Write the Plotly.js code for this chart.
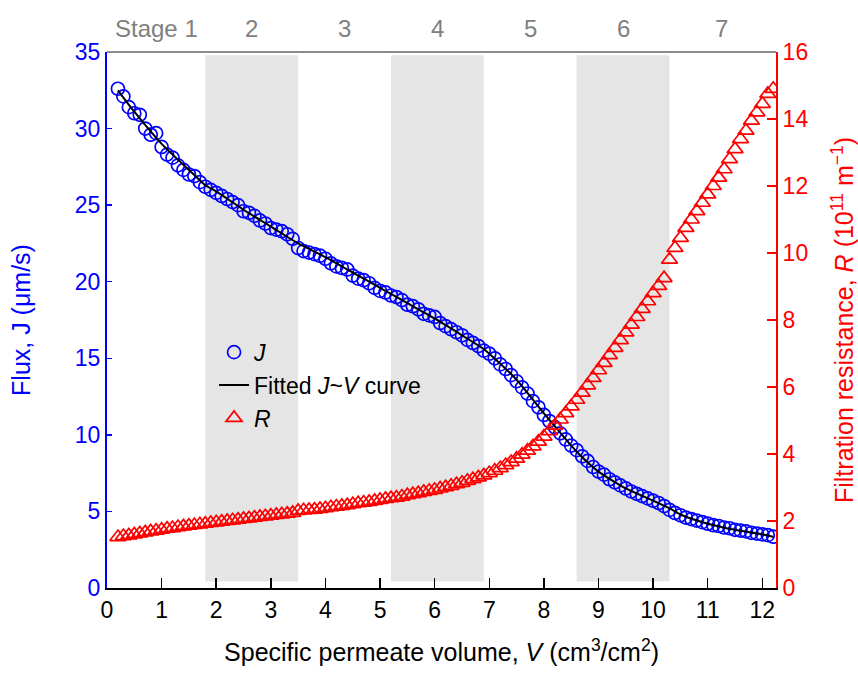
<!DOCTYPE html>
<html>
<head>
<meta charset="utf-8">
<script src="https://cdn.plot.ly/plotly-3.0.1.min.js"></script>
<style>html,body{margin:0;padding:0;background:#fff;}#chart{width:858px;height:673px;}</style>
</head>
<body>
<div id="chart"></div>
<script>
// Measured flux J (um/s) vs specific permeate volume V (cm3/cm2)
const vJ = [0.2,0.3,0.4,0.5,0.6,0.7,0.8,0.9,1.0,1.1,1.2,1.3,1.4,1.5,1.6,1.7,1.8,1.9,2.0,2.1,2.2,2.3,2.4,2.5,2.6,2.7,2.8,2.9,3.0,3.1,3.2,3.3,3.4,3.5,3.6,3.7,3.8,3.9,4.0,4.1,4.2,4.3,4.4,4.5,4.6,4.7,4.8,4.9,5.0,5.1,5.2,5.3,5.4,5.5,5.6,5.7,5.8,5.9,6.0,6.1,6.2,6.3,6.4,6.5,6.6,6.7,6.8,6.9,7.0,7.1,7.2,7.3,7.4,7.5,7.6,7.7,7.8,7.9,8.0,8.1,8.2,8.3,8.4,8.5,8.6,8.7,8.8,8.9,9.0,9.1,9.2,9.3,9.4,9.5,9.6,9.7,9.8,9.9,10.0,10.1,10.2,10.3,10.4,10.5,10.6,10.7,10.8,10.9,11.0,11.1,11.2,11.3,11.4,11.5,11.6,11.7,11.8,11.9,12.0,12.1,12.2];
const fluxJ = [32.6,32.1,31.4,31.0,30.9,30.0,29.6,29.7,28.8,28.3,28.1,27.6,27.3,27.0,26.9,26.5,26.2,26.0,25.8,25.6,25.4,25.2,25.0,24.6,24.5,24.3,24.0,23.8,23.5,23.4,23.3,23.1,22.8,22.2,22.0,21.9,21.8,21.7,21.5,21.2,21.0,20.9,20.8,20.4,20.2,20.1,19.9,19.6,19.4,19.3,19.1,19.0,18.8,18.5,18.4,18.2,17.9,17.8,17.7,17.3,17.1,16.9,16.7,16.5,16.2,16.0,15.8,15.5,15.3,15.0,14.6,14.3,13.9,13.5,13.1,12.7,12.2,11.8,11.3,10.9,10.5,10.1,9.7,9.3,9.0,8.6,8.3,7.9,7.6,7.4,7.1,6.9,6.7,6.5,6.3,6.15,6.0,5.85,5.7,5.55,5.35,5.1,4.9,4.75,4.6,4.5,4.4,4.3,4.2,4.1,4.05,3.95,3.9,3.8,3.75,3.7,3.6,3.55,3.5,3.45,3.35];

// Fitted J~V curve
const vFit = [0.2,0.5,1.0,1.5,1.8,2.0,2.5,3.0,3.5,4.0,4.5,5.0,5.2,5.5,6.0,6.5,6.9,7.0,7.5,8.0,8.5,8.6,9.0,9.5,10.0,10.3,10.5,11.0,11.5,12.0,12.2];
const jFit = [32.5,31.1,29.0,27.3,26.3,25.9,24.7,23.6,22.5,21.6,20.6,19.6,19.2,18.6,17.6,16.5,15.6,15.3,13.6,11.4,9.3,8.9,7.6,6.5,5.7,5.2,4.8,4.2,3.8,3.5,3.35];

// Filtration resistance R (1e11 m^-1)
const vR = [0.2,0.3,0.4,0.5,0.6,0.7,0.8,0.9,1.0,1.1,1.2,1.3,1.4,1.5,1.6,1.7,1.8,1.9,2.0,2.1,2.2,2.3,2.4,2.5,2.6,2.7,2.8,2.9,3.0,3.1,3.2,3.3,3.4,3.5,3.6,3.7,3.8,3.9,4.0,4.1,4.2,4.3,4.4,4.5,4.6,4.7,4.8,4.9,5.0,5.1,5.2,5.3,5.4,5.5,5.6,5.7,5.8,5.9,6.0,6.1,6.2,6.3,6.4,6.5,6.6,6.7,6.8,6.9,7.0,7.1,7.2,7.3,7.4,7.5,7.6,7.7,7.8,7.9,8.0,8.1,8.2,8.3,8.4,8.5,8.6,8.7,8.8,8.9,9.0,9.1,9.2,9.3,9.4,9.5,9.6,9.7,9.8,9.9,10.0,10.1,10.2,10.3,10.4,10.5,10.6,10.7,10.8,10.9,11.0,11.1,11.2,11.3,11.4,11.5,11.6,11.7,11.8,11.9,12.0,12.1,12.2];
const resR = [1.52,1.55,1.57,1.6,1.63,1.66,1.69,1.71,1.74,1.77,1.79,1.82,1.84,1.86,1.88,1.9,1.92,1.94,1.96,1.98,2.0,2.02,2.04,2.06,2.08,2.1,2.12,2.14,2.16,2.18,2.2,2.22,2.24,2.3,2.32,2.33,2.34,2.36,2.38,2.41,2.43,2.45,2.47,2.5,2.53,2.55,2.57,2.6,2.63,2.66,2.68,2.7,2.73,2.77,2.8,2.83,2.87,2.9,2.93,2.97,3.01,3.05,3.1,3.14,3.2,3.25,3.3,3.36,3.43,3.5,3.58,3.67,3.76,3.86,3.98,4.1,4.23,4.37,4.52,4.68,4.85,5.03,5.22,5.42,5.62,5.83,6.05,6.27,6.5,6.72,6.95,7.17,7.4,7.63,7.86,8.09,8.33,8.56,8.8,9.02,9.25,9.8,10.15,10.45,10.75,11.0,11.25,11.5,11.75,12.0,12.25,12.5,12.8,13.1,13.4,13.65,13.95,14.2,14.45,14.75,14.9];

// Stages
const stageLabels = ["Stage 1","2","3","4","5","6","7"];
const stageBounds = [0,1.8,3.5,5.2,6.9,8.6,10.3,12.2];
const shadedStages = [1,3,5];

const FONT = "Liberation Sans, Arial, sans-serif";
const shapes = [];
shadedStages.forEach(i => {
  shapes.push({type:"rect", xref:"x", yref:"paper", x0:stageBounds[i], x1:stageBounds[i+1], y0:0.012, y1:0.994,
    fillcolor:"#e5e5e5", line:{width:0}, layer:"below"});
});
shapes.push({type:"line", xref:"paper", yref:"paper", x0:0, x1:1, y0:1, y1:1, line:{color:"#8c8c8c", width:2}});

const annotations = stageLabels.map((s,i) => ({
  x:(stageBounds[i]+stageBounds[i+1])/2, y:1, xref:"x", yref:"paper", yanchor:"bottom", yshift:8,
  text:s, showarrow:false, font:{family:FONT, size:24, color:"#808080"}
}));

const traces = [
  {x:vJ, y:fluxJ, name:"<i>J</i>", type:"scatter", mode:"markers",
   marker:{symbol:"circle-open", size:13, color:"#0000ff", line:{width:1.7, color:"#0000ff"}}},
  {x:vFit, y:jFit, name:"Fitted <i>J</i>~<i>V</i> curve", type:"scatter", mode:"lines",
   line:{color:"#000000", width:2, shape:"spline", smoothing:0.6}},
  {x:vR, y:resR, name:"<i>R</i>", type:"scatter", mode:"markers", yaxis:"y2",
   marker:{symbol:"triangle-up-open", size:14, color:"#ff0000", line:{width:1.7, color:"#ff0000"}}}
];

const layout = {
  width:858, height:673,
  margin:{l:107, r:82, t:52, b:85},
  paper_bgcolor:"#ffffff", plot_bgcolor:"rgba(0,0,0,0)",
  font:{family:FONT, size:23, color:"#000"},
  showlegend:true,
  legend:{x:0.16, y:0.48, xanchor:"left", yanchor:"top", bgcolor:"rgba(0,0,0,0)",
    font:{family:FONT, size:23, color:"#000"}, itemwidth:30},
  xaxis:{range:[0,12.25], tickvals:[0,1,2,3,4,5,6,7,8,9,10,11,12], showgrid:false, zeroline:false,
    showline:true, linecolor:"#000", linewidth:2, ticks:"inside", ticklen:10, tickwidth:1.5, tickcolor:"#000",
    tickfont:{family:FONT, size:23, color:"#000"},
    title:{text:"Specific permeate volume, <i>V</i> (cm<sup>3</sup>/cm<sup>2</sup>)", font:{family:FONT, size:25, color:"#000"}, standoff:22}},
  yaxis:{range:[0,35], tickvals:[0,5,10,15,20,25,30,35], showgrid:false, zeroline:false,
    showline:true, linecolor:"#0000ff", linewidth:2, ticks:"inside", ticklen:5, tickwidth:1.5, tickcolor:"#0000ff",
    tickfont:{family:FONT, size:23, color:"#0000ff"},
    title:{text:"Flux, J (μm/s)", font:{family:FONT, size:25, color:"#0000ff"}, standoff:37}},
  yaxis2:{range:[0,16], tickvals:[0,2,4,6,8,10,12,14,16], overlaying:"y", side:"right", showgrid:false, zeroline:false,
    showline:true, linecolor:"#ff0000", linewidth:2, ticks:"inside", ticklen:9, tickwidth:1.5, tickcolor:"#ff0000",
    tickfont:{family:FONT, size:23, color:"#ff0000"},
    title:{text:"Filtration resistance, <i>R</i> (10<sup>11</sup> m<sup>−1</sup>)", font:{family:FONT, size:25, color:"#ff0000"}, standoff:30}},
  shapes:shapes,
  annotations:annotations
};

Plotly.newPlot("chart", traces, layout, {displayModeBar:false, staticPlot:true});
</script>
</body>
</html>
